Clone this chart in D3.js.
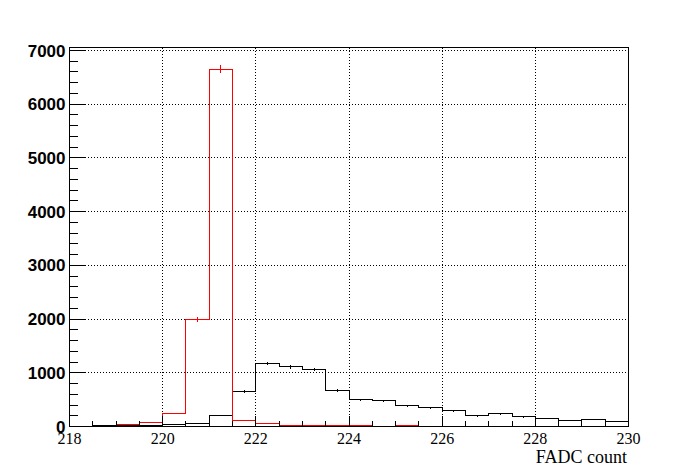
<!DOCTYPE html>
<html>
<head>
<meta charset="utf-8">
<script src="https://cdn.jsdelivr.net/npm/d3@7"></script>
<style>
  body { margin: 0; background: #fff; }
</style>
</head>
<body>
<svg id="chart"></svg>
<script>
// Histogram binning (0.5 wide bins from 218 to 230)
const binLow = 218;
const binWidth = 0.5;

// Bin contents
const blackCounts = [0, 18, 18, 18, 37, 56, 205, 647, 1170, 1113, 1057, 666,
                     498, 479, 386, 349, 293, 200, 237, 181, 144, 106, 125, 88];
const redCounts   = [0, 0, 37, 75, 242, 1990, 6655, 112, 56, 18, 18, 18,
                     18, 3, 18, 3, 0, 0, 0, 0, 0, 0, 0, 0];

// Axis ticks
const xMajor = [218, 220, 222, 224, 226, 228, 230];
const xMinor = d3.range(218.5, 230, 0.5).filter(d => d % 2 !== 0);
const yMajor = [0, 1000, 2000, 3000, 4000, 5000, 6000, 7000];
const yMinor = d3.range(200, 7000, 200).filter(d => d % 1000 !== 0);
const xTitle = 'FADC count';

const width = 698;
const height = 474;

const svg = d3.select('#chart')
    .attr('width', width)
    .attr('height', height);

const x = d3.scaleLinear().domain([218, 230]).range([69.5, 628.5]);
const y = d3.scaleLinear().domain([0, 7056]).range([426.5, 47.5]);

// dotted grid
const grid = svg.append('g')
    .attr('stroke', '#000')
    .attr('stroke-dasharray', '1,2')
    .attr('shape-rendering', 'crispEdges');

grid.selectAll('.gx')
    .data(xMajor.slice(1, -1))
    .join('line')
    .attr('x1', d => x(d)).attr('x2', d => x(d))
    .attr('y1', y.range()[0]).attr('y2', y.range()[1]);

grid.selectAll('.gy')
    .data(yMajor.slice(1))
    .join('line')
    .attr('x1', x.range()[0]).attr('x2', x.range()[1])
    .attr('y1', d => y(d)).attr('y2', d => y(d));

// step outline of a histogram
function stepPath(counts) {
    const p = d3.path();
    p.moveTo(x(binLow), y(0));
    counts.forEach((c, i) => {
        const lo = binLow + i * binWidth;
        p.lineTo(x(lo), y(c));
        p.lineTo(x(lo + binWidth), y(c));
    });
    p.lineTo(x(binLow + counts.length * binWidth), y(0));
    return p.toString();
}

function drawHist(counts, colour) {
    const g = svg.append('g')
        .attr('stroke', colour)
        .attr('fill', 'none')
        .attr('shape-rendering', 'crispEdges');

    g.append('path').attr('d', stepPath(counts));

    // poisson error bars at bin centres
    const bins = counts.map((c, i) => ({ c: c, xc: binLow + (i + 0.5) * binWidth }))
        .filter(d => d.c > 0);
    g.selectAll('line')
        .data(bins)
        .join('line')
        .attr('x1', d => x(d.xc)).attr('x2', d => x(d.xc))
        .attr('y1', d => y(d.c - Math.sqrt(d.c)))
        .attr('y2', d => y(d.c + Math.sqrt(d.c)));
}

drawHist(blackCounts, '#000');
drawHist(redCounts, '#ff0000');

// frame
svg.append('rect')
    .attr('x', x.range()[0]).attr('y', y.range()[1])
    .attr('width', x.range()[1] - x.range()[0])
    .attr('height', y.range()[0] - y.range()[1])
    .attr('fill', 'none')
    .attr('stroke', '#000')
    .attr('shape-rendering', 'crispEdges');

// x axis
const gx = svg.append('g')
    .attr('transform', `translate(0,${y(0)})`)
    .call(d3.axisBottom(x).tickValues(xMajor).tickSize(-11).tickFormat(d3.format('d')).offset(0));
gx.append('g')
    .call(d3.axisBottom(x).tickValues(xMinor).tickSize(-6).tickFormat('').offset(0));
gx.selectAll('.domain').remove();
gx.selectAll('line').attr('shape-rendering', 'crispEdges');
gx.selectAll('text')
    .attr('y', 17.5)
    .attr('dy', null)
    .attr('font-family', '"Liberation Serif", "Times New Roman", serif')
    .attr('font-size', 16)
    .attr('fill', '#000');

// y axis
const gy = svg.append('g')
    .attr('transform', `translate(${x(218)},0)`)
    .call(d3.axisLeft(y).tickValues(yMajor).tickSize(-16).tickPadding(4).tickFormat(d3.format('d')).offset(0));
gy.append('g')
    .call(d3.axisLeft(y).tickValues(yMinor).tickSize(-8).tickFormat('').offset(0));
gy.selectAll('.domain').remove();
gy.selectAll('line').attr('shape-rendering', 'crispEdges');
gy.selectAll('text')
    .attr('dy', '0.36em')
    .attr('font-family', '"Liberation Sans", Arial, sans-serif')
    .attr('font-weight', 'bold')
    .attr('font-size', 17)
    .attr('fill', '#000');

// axis title
svg.append('text')
    .attr('x', 627)
    .attr('y', 462.5)
    .attr('text-anchor', 'end')
    .attr('font-family', '"Liberation Serif", "Times New Roman", serif')
    .attr('font-size', 18)
    .text(xTitle);
</script>
</body>
</html>
